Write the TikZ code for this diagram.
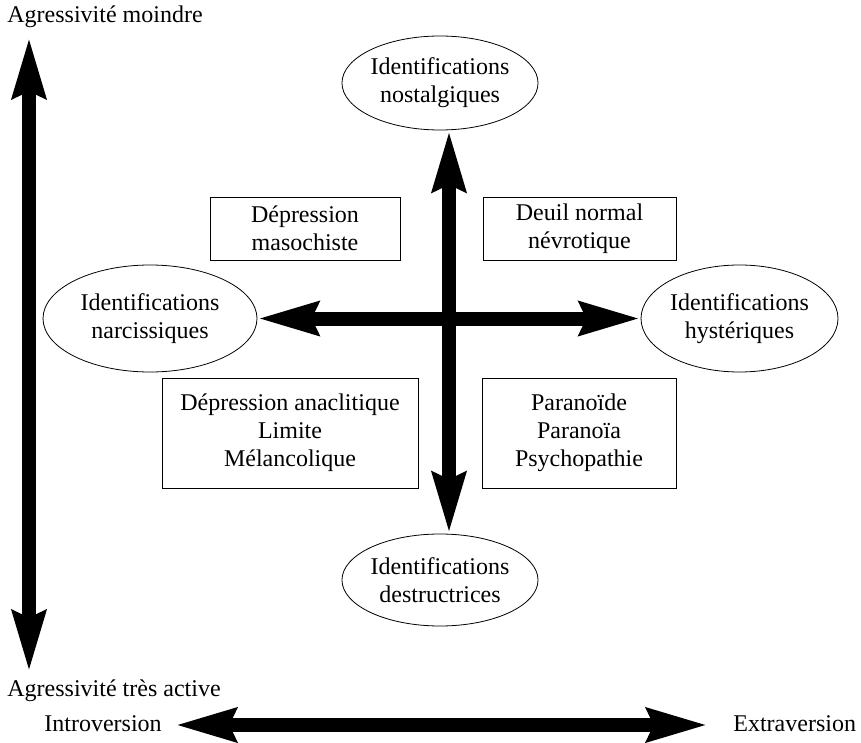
\documentclass[tikz,border=0pt]{standalone}
\usepackage{fontspec}
\setmainfont{Liberation Serif}
\usetikzlibrary{arrows.meta,shapes.geometric}
\begin{document}
\begin{tikzpicture}[x=0.5pt,y=-0.5pt,
  font=\fontsize{12pt}{14pt}\selectfont,
  oval/.style={draw,ellipse,inner sep=0pt,align=center,line width=0.4pt},
  boxn/.style={draw,rectangle,inner sep=0pt,align=center,line width=0.4pt},
  lbl/.style={inner sep=0pt,anchor=base west},
  bigarrow/.style={line width=7pt,{Stealth[length=30pt,width=16pt,inset=3pt]}-{Stealth[length=30pt,width=16pt,inset=3pt]}}]
\useasboundingbox (0,0) rectangle (861,743);
% labels
\node[lbl] (amoindre) at (7,23) {Agressivité moindre};
\node[lbl] (aactive) at (7,696) {Agressivité très active};
\node[lbl] (intro) at (44,731) {Introversion};
\node[lbl] (extra) at (733,731) {Extraversion};
% ellipses
\node[oval,minimum width=96pt,minimum height=47pt] (nost) at (440,83) {Identifications\\nostalgiques};
\node[oval,minimum width=107pt,minimum height=53.5pt] (narc) at (150,318.5) {Identifications\\narcissiques};
\node[oval,minimum width=98.5pt,minimum height=53.5pt] (hyst) at (739.5,318.5) {Identifications\\hystériques};
\node[oval,minimum width=96pt,minimum height=46pt] (destr) at (440,580) {Identifications\\destructrices};
% boxes
\node[boxn,minimum width=95pt,minimum height=31.5pt] (maso) at (305,228.5) {Dépression\\masochiste};
\node[boxn,minimum width=96.5pt,minimum height=31.5pt] (deuil) at (579.5,228.5) {Deuil normal\\névrotique};
\node[boxn,minimum width=128pt,minimum height=55pt] (ana) at (290,433) {Dépression anaclitique\\Limite\\Mélancolique};
\node[boxn,minimum width=97pt,minimum height=55pt] (para) at (579,433) {Paranoïde\\Paranoïa\\Psychopathie};
% axes
\coordinate (vaxis) at (449,319);
\draw[bigarrow] (vaxis |- nost.south) -- (vaxis |- destr.north);
\draw[bigarrow] (narc.east) -- (hyst.west);
\coordinate (ltop) at (29,37);
\coordinate (lbot) at (29,672);
\draw[bigarrow] (ltop) -- (lbot);
\coordinate (bl) at (175,725);
\coordinate (br) at (708,725);
\draw[bigarrow] (bl) -- (br);
\end{tikzpicture}
\end{document}
